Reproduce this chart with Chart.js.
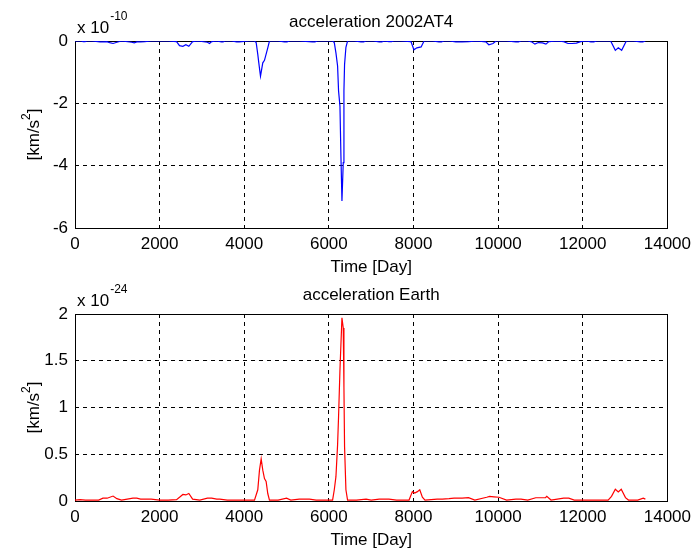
<!DOCTYPE html>
<html>
<head>
<meta charset="utf-8">
<script src="https://cdn.jsdelivr.net/npm/chart.js@4.4.0/dist/chart.umd.min.js"></script>
<style>
  body { margin: 0; background: #ffffff; }
  #wrap { position: relative; width: 697px; height: 558px; background: #ffffff; }
  canvas { position: absolute; left: 0; top: 0; }
</style>
</head>
<body>
<div id="wrap">
  <canvas id="topChart" width="697" height="558"></canvas>
  <canvas id="bottomChart" width="697" height="558"></canvas>
</div>
<script>
// acceleration of 2002AT4, values in units of 1e-10 km/s^2
const topDays = [
  0, 150, 190, 240, 280, 400, 590, 650, 750, 820,
  900, 990, 1100, 1340, 1400, 1460, 1550, 1650, 1800, 2000,
  2200, 2400, 2470, 2550, 2620, 2690, 2780, 2900, 3130, 3180,
  3230, 3350, 3460, 3500, 3540, 3700, 3820, 3880, 3940, 4100,
  4242, 4282, 4320, 4344, 4384, 4438, 4478, 4556, 4596, 4800,
  4950, 5010, 5070, 5300, 5610, 5670, 5730, 5900, 6088, 6128,
  6167, 6206, 6229, 6262, 6285, 6309, 6340, 6356, 6371, 6403,
  6442, 6600, 6760, 6820, 6880, 7050, 7190, 7250, 7310, 7420,
  7480, 7540, 7700, 7940, 8010, 8080, 8180, 8250, 8450, 8600,
  8660, 8720, 8850, 9000, 9150, 9300, 9500, 9710, 9780, 9880,
  9950, 10200, 10420, 10480, 10540, 10700, 10800, 10870, 10950, 11050,
  11130, 11200, 11400, 11550, 11650, 11750, 11850, 11950, 12100, 12190,
  12260, 12330, 12500, 12660, 12770, 12840, 12920, 13030, 13200, 13360,
  13420, 13480
];
const topVals = [
  0, 0, -0.02, -0.02, 0, 0, -0.03, -0.03, -0.02, -0.05,
  -0.08, -0.04, 0, -0.04, -0.06, -0.03, -0.03, -0.02, 0, 0,
  0, -0.02, -0.15, -0.17, -0.12, -0.17, -0.02, 0, -0.04, -0.08,
  -0.02, 0, -0.03, -0.03, 0, 0, -0.03, -0.03, -0.02, 0,
  0, -0.05, -0.43, -0.7, -1.13, -0.7, -0.62, -0.22, 0, 0,
  -0.03, -0.03, 0, 0, -0.03, -0.03, 0, 0, 0, -0.05,
  -0.38, -0.8, -1.6, -2.09, -3.69, -5.13, -3.9, -1.6, -0.75, -0.2,
  0, 0, -0.03, -0.03, 0, 0, -0.03, -0.03, 0, -0.02,
  -0.02, 0, 0, -0.02, -0.28, -0.22, -0.19, 0, 0, -0.03,
  -0.03, 0, 0, -0.03, -0.03, -0.02, 0, -0.03, -0.12, -0.08,
  0, 0, -0.03, -0.03, 0, 0, -0.03, -0.1, -0.05, -0.06,
  -0.1, -0.02, 0, -0.02, -0.08, -0.08, -0.07, -0.02, 0, -0.03,
  -0.03, 0, 0, 0, -0.3, -0.22, -0.3, 0, 0, -0.03,
  -0.03, 0
];

// acceleration of Earth, values in units of 1e-24 km/s^2
const bottomDays = [
  0, 120, 250, 400, 560, 660, 760, 900, 990, 1100,
  1370, 1460, 1550, 1800, 2000, 2200, 2400, 2470, 2550, 2620,
  2690, 2780, 2950, 3130, 3230, 3350, 3420, 3600, 3800, 4000,
  4242, 4320, 4360, 4400, 4438, 4478, 4517, 4556, 4596, 4800,
  5000, 5100, 5300, 5540, 5700, 5900, 6088, 6128, 6167, 6206,
  6229, 6262, 6309, 6340, 6356, 6371, 6403, 6442, 6650, 6880,
  7000, 7190, 7420, 7600, 7895, 7974, 8030, 8092, 8148, 8210,
  8272, 8560, 8680, 8840, 8960, 9150, 9300, 9450, 9730, 9800,
  9900, 10020, 10200, 10420, 10540, 10700, 10890, 11000, 11120, 11150,
  11250, 11550, 11670, 11800, 12000, 12200, 12400, 12600, 12680, 12770,
  12840, 12910, 13010, 13080, 13300, 13430, 13480
];
const bottomVals = [
  0.01, 0.015, 0.01, 0.01, 0.01, 0.03, 0.03, 0.053, 0.025, 0.01,
  0.03, 0.03, 0.02, 0.02, 0.01, 0.01, 0.015, 0.04, 0.07, 0.065,
  0.08, 0.02, 0.01, 0.03, 0.03, 0.02, 0.02, 0.01, 0.01, 0.01,
  0.01, 0.12, 0.33, 0.45, 0.33, 0.24, 0.21, 0.08, 0.01, 0.01,
  0.03, 0.01, 0.02, 0.02, 0.01, 0.01, 0.01, 0.12, 0.26, 0.6,
  0.9, 1.4, 1.96, 1.85, 1.22, 0.58, 0.12, 0.01, 0.01, 0.02,
  0.01, 0.02, 0.02, 0.01, 0.01, 0.1, 0.085, 0.1, 0.12, 0.04,
  0.01, 0.02, 0.02, 0.025, 0.03, 0.03, 0.035, 0.01, 0.04, 0.05,
  0.045, 0.04, 0.01, 0.02, 0.02, 0.01, 0.035, 0.035, 0.035, 0.05,
  0.01, 0.03, 0.03, 0.01, 0.01, 0.01, 0.01, 0.01, 0.05, 0.125,
  0.096, 0.125, 0.036, 0.01, 0.01, 0.03, 0.02
];

const xTicks = [0, 2000, 4000, 6000, 8000, 10000, 12000, 14000];
const topYTicks = [-6, -4, -2, 0];
const bottomYTicks = [0, 0.5, 1, 1.5, 2];

const FONT = '"Liberation Sans", Arial, Helvetica, sans-serif';

// draws the box around the plot area before the line, so the line sits on top
const framePlugin = {
  id: 'frame',
  beforeDatasetsDraw(chart) {
    const a = chart.chartArea;
    const ctx = chart.ctx;
    ctx.save();
    ctx.strokeStyle = '#000000';
    ctx.lineWidth = 1;
    ctx.setLineDash([]);
    ctx.strokeRect(Math.round(a.left) + 0.5, Math.round(a.top) + 0.5,
      Math.round(a.right - a.left), Math.round(a.bottom - a.top));
    ctx.restore();
  }
};

// titles, axis labels and the "x 10^n" multiplier
const textPlugin = {
  id: 'matlabText',
  afterDraw(chart, args, opts) {
    const ctx = chart.ctx;
    const a = chart.chartArea;
    const cx = (a.left + a.right) / 2;
    ctx.save();
    ctx.fillStyle = '#000000';
    ctx.textBaseline = 'middle';

    ctx.font = '17px ' + FONT;
    ctx.textAlign = 'center';
    ctx.fillText(opts.title, cx, a.top - 19);
    ctx.fillText('Time [Day]', cx, a.bottom + 39);

    // multiplier
    ctx.textAlign = 'left';
    ctx.fillText('x 10', a.left + 2, a.top - 13);
    var w = ctx.measureText('x 10').width;
    ctx.font = '12px ' + FONT;
    ctx.fillText(opts.exponent, a.left + 3 + w, a.top - 24);

    // y label, rotated
    ctx.translate(34, (a.top + a.bottom) / 2);
    ctx.rotate(-Math.PI / 2);
    ctx.font = '17px ' + FONT;
    var w1 = ctx.measureText('[km/s').width;
    ctx.font = '12px ' + FONT;
    var w2 = ctx.measureText('2').width;
    ctx.font = '17px ' + FONT;
    var w3 = ctx.measureText(']').width;
    var x0 = -(w1 + w2 + w3) / 2;
    ctx.fillText('[km/s', x0, 0);
    ctx.font = '12px ' + FONT;
    ctx.fillText('2', x0 + w1, -7);
    ctx.font = '17px ' + FONT;
    ctx.fillText(']', x0 + w1 + w2, 0);
    ctx.restore();
  }
};

function makeChart(canvasId, days, vals, color, yTicks, padTop, padBottom, title, exponent) {
  var points = days.map((d, i) => ({ x: d, y: vals[i] }));
  var ctx = document.getElementById(canvasId).getContext('2d');
  return new Chart(ctx, {
    type: 'line',
    data: {
      datasets: [{
        data: points,
        borderColor: color,
        borderWidth: 1.2,
        pointRadius: 0,
        fill: false,
        tension: 0
      }]
    },
    options: {
      responsive: false,
      animation: false,
      layout: { padding: { left: 0, right: 28, top: padTop, bottom: padBottom } },
      plugins: {
        legend: { display: false },
        tooltip: { enabled: false },
        matlabText: { title: title, exponent: exponent }
      },
      scales: {
        x: {
          type: 'linear',
          min: xTicks[0],
          max: xTicks[xTicks.length - 1],
          afterBuildTicks: (scale) => { scale.ticks = xTicks.map(v => ({ value: v })); },
          afterFit: (scale) => { scale.height = 30; },
          ticks: {
            maxRotation: 0,
            autoSkip: false,
            padding: 6,
            color: '#000000',
            font: { family: FONT, size: 17 },
            callback: (v) => String(v)
          },
          grid: { color: '#000000', lineWidth: 1, drawTicks: false },
          border: { display: false, dash: [4, 4] }
        },
        y: {
          type: 'linear',
          min: yTicks[0],
          max: yTicks[yTicks.length - 1],
          afterBuildTicks: (scale) => { scale.ticks = yTicks.map(v => ({ value: v })); },
          afterFit: (scale) => { scale.width = 75; },
          ticks: {
            autoSkip: false,
            padding: 7,
            color: '#000000',
            font: { family: FONT, size: 17 },
            callback: (v) => String(v)
          },
          grid: { color: '#000000', lineWidth: 1, drawTicks: false },
          border: { display: false, dash: [4, 4] }
        }
      }
    },
    plugins: [framePlugin, textPlugin]
  });
}

makeChart('topChart', topDays, topVals, '#0000ff', topYTicks, 41, 300, 'acceleration 2002AT4', '-10');
makeChart('bottomChart', bottomDays, bottomVals, '#ff0000', bottomYTicks, 314, 27, 'acceleration Earth', '-24');
</script>
</body>
</html>
